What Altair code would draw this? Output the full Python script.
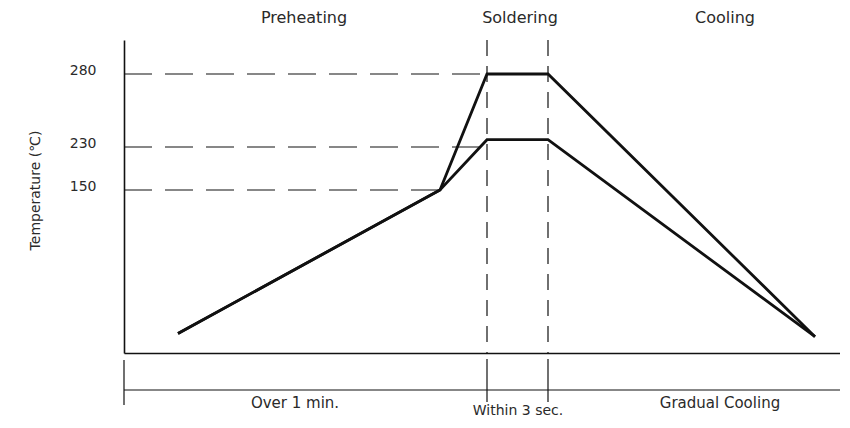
import altair as alt
import pandas as pd

# ---- data (schematic time units, temperature in °C) ----
profile_time = [54, 316, 363, 424, 691]
upper_temp = [18, 150, 280, 280, 15]
lower_temp = [18, 150, 235, 235, 15]

ref_temps = [280, 230, 150]
ref_end_time = [363, 363, 316]

phase_bounds = [363, 424]

phase_labels = ["Preheating", "Soldering", "Cooling"]
phase_label_time = [180, 396, 601]

duration_labels = ["Over 1 min.", "Gradual Cooling"]
duration_label_time = [171, 596]
short_label = ["Within 3 sec."]
short_label_time = [394]

y_ticks = [150, 230, 280]

# ---- layout ----
W, H = 716, 313
FONT = "DejaVu Sans"
TXT = "#2a2a2a"

xs = alt.Scale(domain=[0, W], nice=False, zero=False)
ys = alt.Scale(domain=[0, 150, 230, 280, 303], range=[313, 150, 107, 34, 0],
               nice=False, zero=False)

rows = []
for name, temps in (("upper", upper_temp), ("lower", lower_temp)):
    for i, (t, v) in enumerate(zip(profile_time, temps)):
        rows.append({"series": name, "t": t, "temp": v, "o": i})
prof_df = pd.DataFrame(rows)

ref_df = pd.DataFrame({"temp": ref_temps, "t_end": ref_end_time})
bound_df = pd.DataFrame({"t": phase_bounds})
phase_df = pd.DataFrame({"label": phase_labels, "t": phase_label_time})
dur_df = pd.DataFrame({"label": duration_labels, "t": duration_label_time})
short_df = pd.DataFrame({"label": short_label, "t": short_label_time})
dummy = pd.DataFrame({"d": [0]})

x_axis = alt.Axis(labels=False, ticks=False, title=None, grid=False,
                  domainColor="#111", domainWidth=1.6)
y_axis = alt.Axis(values=y_ticks, ticks=False, grid=False, domainColor="#111",
                  domainWidth=1.6, labelFont=FONT, labelFontSize=14,
                  labelColor=TXT, labelPadding=28, labelOffset=-4,
                  title="Temperature (℃)", titleFont=FONT, titleFontSize=14,
                  titleFontWeight="normal", titleColor=TXT, titleX=-89,
                  titleY=150, titleAngle=270, titleAlign="center",
                  titleBaseline="middle")

profile = alt.Chart(prof_df).mark_line(color="#111", strokeWidth=2.8).encode(
    x=alt.X("t:Q", scale=xs, axis=x_axis),
    y=alt.Y("temp:Q", scale=ys, axis=y_axis),
    detail="series:N",
    order="o:Q",
)

refs = alt.Chart(ref_df).mark_rule(color="#111", strokeWidth=1.2,
                                   strokeDash=[28, 13]).encode(
    x=alt.X("zero:Q", scale=xs),
    x2=alt.X2("t_end:Q"),
    y=alt.Y("temp:Q", scale=ys),
).transform_calculate(zero="0")

bounds = alt.Chart(bound_df).mark_rule(color="#111", strokeWidth=1.2,
                                       strokeDash=[16, 10]).encode(
    x=alt.X("t:Q", scale=xs),
    y=alt.value(0),
    y2=alt.value(H),
)
bounds_low = alt.Chart(bound_df).mark_rule(color="#111", strokeWidth=1.2).encode(
    x=alt.X("t:Q", scale=xs),
    y=alt.value(H + 6),
    y2=alt.value(H + 49),
)
timeline = alt.Chart(dummy).mark_rule(color="#111", strokeWidth=1.2).encode(
    x=alt.value(0), x2=alt.value(W), y=alt.value(H + 37),
)
left_tick = alt.Chart(dummy).mark_rule(color="#111", strokeWidth=1.2).encode(
    x=alt.value(0), y=alt.value(H + 7), y2=alt.value(H + 52),
)

top_text = alt.Chart(phase_df).mark_text(font=FONT, fontSize=16, color=TXT,
                                         baseline="middle").encode(
    x=alt.X("t:Q", scale=xs), y=alt.value(-22), text="label:N",
)
dur_text = alt.Chart(dur_df).mark_text(font=FONT, fontSize=15, color=TXT,
                                       baseline="middle").encode(
    x=alt.X("t:Q", scale=xs), y=alt.value(H + 50), text="label:N",
)
short_text = alt.Chart(short_df).mark_text(font=FONT, fontSize=14, color=TXT,
                                           baseline="middle").encode(
    x=alt.X("t:Q", scale=xs), y=alt.value(H + 58), text="label:N",
)

chart = alt.layer(
    refs, bounds, bounds_low, timeline, left_tick, profile,
    top_text, dur_text, short_text,
).properties(
    width=W, height=H,
    padding={"left": 116, "top": 32, "right": 0, "bottom": 66},
    autosize=alt.AutoSizeParams(type="none"),
).configure_view(stroke=None)

chart.save("out.html", embed_options={"renderer": "svg", "actions": False})
